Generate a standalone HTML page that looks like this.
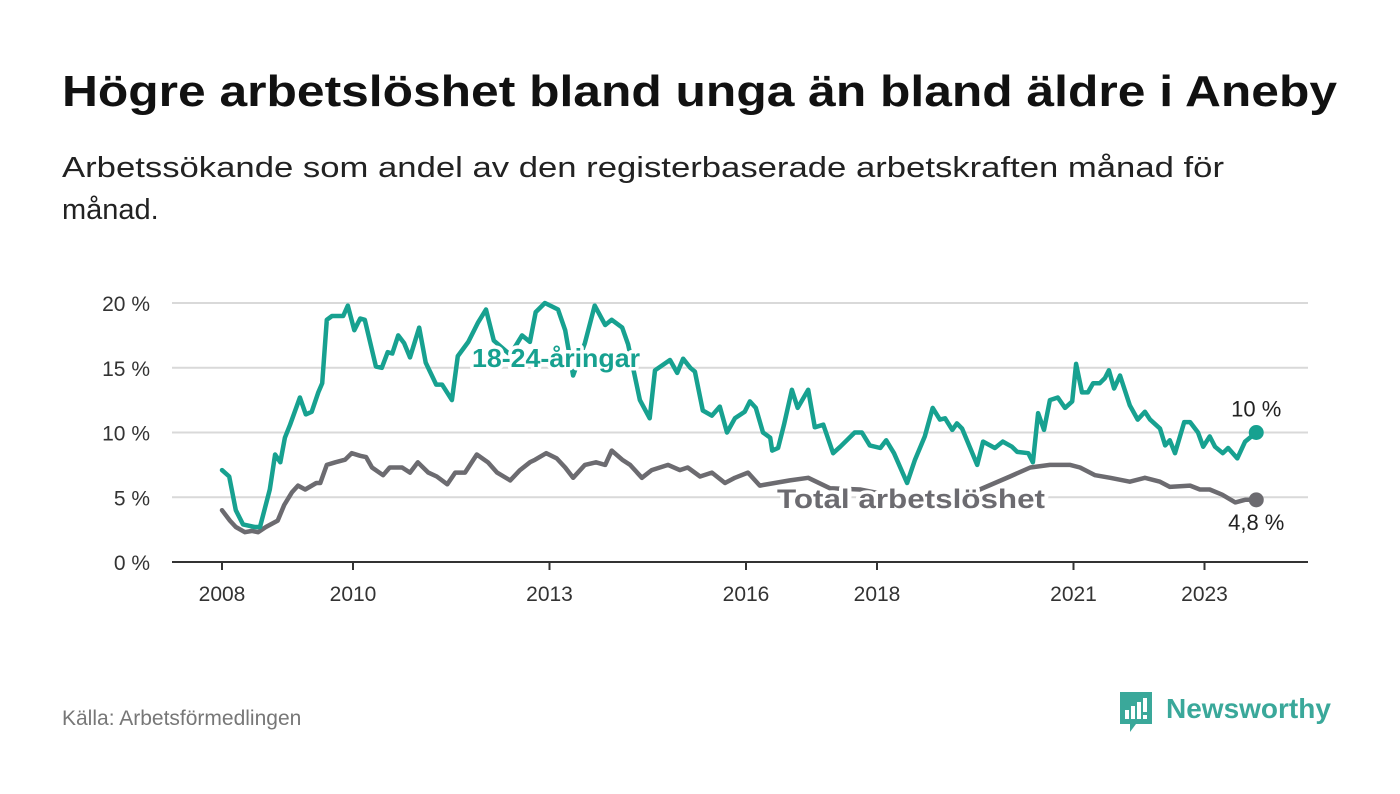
<!DOCTYPE html>
<html><head><meta charset="utf-8"><style>
html,body{margin:0;padding:0;background:#fff;width:1400px;height:794px;overflow:hidden}
svg text{font-family:"Liberation Sans",sans-serif}
</style></head><body>
<svg id="chart" width="1400" height="794" xmlns="http://www.w3.org/2000/svg">
<text x="62" y="106" font-size="44" font-weight="bold" fill="#111" textLength="1275" lengthAdjust="spacingAndGlyphs">Högre arbetslöshet bland unga än bland äldre i Aneby</text>
<text x="62" y="177" font-size="29" fill="#222" textLength="1162" lengthAdjust="spacingAndGlyphs">Arbetssökande som andel av den registerbaserade arbetskraften månad för</text>
<text x="62" y="219" font-size="29" fill="#222">månad.</text>
<g id="grid"></g><g id="xaxis"></g><g id="series"></g><g id="labels"></g>
<text x="62" y="725" font-size="21" fill="#777">Källa: Arbetsförmedlingen</text>
<g>
<path d="M1120 692 h32 v32 h-16 l-6 8 v-8 h-10 z" fill="#3aa89a"/>
<rect x="1125" y="710" width="4" height="9" fill="#fff"/><rect x="1131" y="706" width="4" height="13" fill="#fff"/><rect x="1137" y="702" width="4" height="17" fill="#fff"/><rect x="1143" y="698" width="4" height="14" fill="#fff"/><rect x="1143" y="715" width="4" height="4" fill="#fff"/>
<text x="1166" y="718" font-size="28" font-weight="bold" fill="#3aa89a">Newsworthy</text>
</g>
</svg>
<script>
const yTicks=[0,5,10,15,20];
const yTickLabels=["0 %","5 %","10 %","15 %","20 %"];
const xTicks=[2008,2010,2013,2016,2018,2021,2023];
const youthT=[0,.11,.21,.32,.5,.58,.73,.81,.89,.96,1.04,1.19,1.28,1.37,1.47,1.53,1.6,1.68,1.85,1.92,2.02,2.11,2.18,2.35,2.44,2.53,2.6,2.69,2.78,2.87,3.01,3.11,3.27,3.36,3.51,3.6,3.76,3.91,4.03,4.15,4.4,4.58,4.7,4.79,4.93,5.05,5.13,5.24,5.36,5.54,5.69,5.85,5.95,6.11,6.2,6.38,6.53,6.61,6.84,6.95,7.04,7.15,7.22,7.34,7.48,7.6,7.71,7.83,7.98,8.06,8.15,8.26,8.37,8.4,8.49,8.58,8.7,8.79,8.95,9.05,9.18,9.33,9.44,9.66,9.77,9.89,10.05,10.14,10.26,10.46,10.58,10.73,10.85,10.96,11.04,11.15,11.22,11.3,11.53,11.62,11.8,11.92,12.06,12.14,12.31,12.38,12.46,12.55,12.64,12.76,12.87,12.98,13.04,13.13,13.22,13.3,13.4,13.48,13.54,13.62,13.71,13.86,13.98,14.09,14.17,14.32,14.4,14.47,14.55,14.69,14.78,14.9,14.98,15.08,15.16,15.28,15.36,15.5,15.62,15.79].map(d=>2008+d);
const youthV=[7.1,6.6,4.0,2.9,2.7,2.7,5.6,8.3,7.7,9.6,10.6,12.7,11.4,11.6,13.1,13.8,18.7,19.0,19.0,19.8,17.9,18.8,18.7,15.1,15.0,16.2,16.1,17.5,16.9,15.8,18.1,15.4,13.7,13.7,12.5,15.9,17.0,18.5,19.5,17.1,16.0,17.5,17.0,19.3,20.0,19.7,19.5,17.9,14.4,16.9,19.8,18.3,18.7,18.1,16.8,12.5,11.1,14.8,15.6,14.6,15.7,15.0,14.7,11.7,11.3,12.0,10.0,11.1,11.6,12.4,11.9,10.0,9.6,8.6,8.8,10.6,13.3,11.9,13.3,10.4,10.6,8.4,8.9,10.0,10.0,9.0,8.8,9.4,8.4,6.1,7.9,9.7,11.9,11.0,11.1,10.2,10.7,10.3,7.5,9.3,8.8,9.3,8.9,8.5,8.4,7.7,11.5,10.2,12.5,12.7,11.9,12.4,15.3,13.1,13.1,13.8,13.8,14.2,14.8,13.4,14.4,12.1,11.0,11.6,11.0,10.3,9.0,9.4,8.4,10.8,10.8,10.0,8.9,9.7,8.9,8.4,8.8,8.0,9.3,10.0];
const totalT=[0,.12,.21,.35,.46,.55,.67,.85,.95,1.07,1.16,1.27,1.44,1.5,1.6,1.73,1.88,1.98,2.11,2.2,2.29,2.46,2.56,2.75,2.87,2.99,3.15,3.28,3.44,3.56,3.71,3.89,4.06,4.2,4.4,4.55,4.7,4.78,4.95,5.11,5.24,5.36,5.54,5.71,5.85,5.95,6.11,6.23,6.41,6.56,6.81,6.99,7.11,7.3,7.48,7.68,7.83,8.03,8.21,8.67,8.95,9.28,9.74,10.35,10.96,11.57,12.03,12.34,12.64,12.95,13.1,13.33,13.56,13.86,14.09,14.32,14.47,14.78,14.93,15.08,15.27,15.47,15.62,15.79].map(d=>2008+d);
const totalV=[4.0,3.2,2.7,2.3,2.4,2.3,2.7,3.2,4.4,5.4,5.9,5.6,6.1,6.1,7.5,7.7,7.9,8.4,8.2,8.1,7.3,6.7,7.3,7.3,6.9,7.7,6.9,6.6,6.0,6.9,6.9,8.3,7.7,6.9,6.3,7.1,7.7,7.9,8.4,8.0,7.3,6.5,7.5,7.7,7.5,8.6,7.9,7.5,6.5,7.1,7.5,7.1,7.3,6.6,6.9,6.1,6.5,6.9,5.9,6.3,6.5,5.7,5.6,5.0,4.8,5.6,6.6,7.3,7.5,7.5,7.3,6.7,6.5,6.2,6.5,6.2,5.8,5.9,5.6,5.6,5.2,4.6,4.8,4.8];
const NS="http://www.w3.org/2000/svg";
const xS=t=>222+(t-2008)*65.5;
const yS=v=>562-v*12.95;
function mk(tag,attrs,parent,txt){const e=document.createElementNS(NS,tag);for(const k in attrs)e.setAttribute(k,attrs[k]);if(txt!=null)e.textContent=txt;parent.appendChild(e);return e;}
const grid=document.getElementById('grid');
yTicks.forEach((v,i)=>{
  if(v>0){const l=mk('line',{x1:172,x2:1308,y1:yS(v),y2:yS(v),stroke:'#d9d9d9','stroke-width':2},grid);
  
  }
  const t=mk('text',{x:150,y:yS(v)+8,'text-anchor':'end','font-size':21,fill:'#333'},grid,yTickLabels[i]);
  
  
});
const xa=document.getElementById('xaxis');
const base=mk('line',{x1:172,x2:1308,y1:562,y2:562,stroke:'#333','stroke-width':2},xa);


xTicks.forEach(y=>{
  const tk=mk('line',{x1:xS(y),x2:xS(y),y1:562,y2:570,stroke:'#333','stroke-width':2},xa);
  
  
  const t=mk('text',{x:xS(y),y:601,'text-anchor':'middle','font-size':21,fill:'#333'},xa,String(y));
  
  
});
const sg=document.getElementById('series');
function line(T,V,col,name){
  const d=T.map((t,i)=>(i?'L':'M')+xS(t).toFixed(1)+' '+yS(V[i]).toFixed(1)).join(' ');
  const p=mk('path',{d:d,fill:'none',stroke:col,'stroke-width':4.5,'stroke-linejoin':'round','stroke-linecap':'round'},sg);
  
  
  const n=T.length-1;
  const c=mk('circle',{cx:xS(T[n]),cy:yS(V[n]),r:7.5,fill:col},sg);
  
  
}
line(totalT,totalV,'#6c6b70','total');
line(youthT,youthV,'#17a190','youth');
const lg=document.getElementById('labels');
function lab(x,y,txt,col,name,bold,size,len){
  const a={x:x,y:y,'text-anchor':'middle','font-size':size,'font-weight':bold?'bold':'normal',fill:col,stroke:'#fff','stroke-width':bold?7:5,'paint-order':'stroke','stroke-linejoin':'round'};
  if(len){a.textLength=len;a.lengthAdjust='spacingAndGlyphs';}
  const t=mk('text',a,lg,txt);
  
  
}
lab(556,367,'18-24-åringar','#17a190','youth-series-label',true,26,168);
lab(911,508,'Total arbetslöshet','#6c6b70','total-series-label',true,27,268);
const nY=youthT.length-1,nT=totalT.length-1;
lab(xS(youthT[nY]),yS(youthV[nY])-16,String(youthV[nY]).replace('.',',')+' %','#222','youth-end-value',false,22);
lab(xS(totalT[nT]),yS(totalV[nT])+30,String(totalV[nT]).replace('.',',')+' %','#222','total-end-value',false,22);
</script>
</body></html>
